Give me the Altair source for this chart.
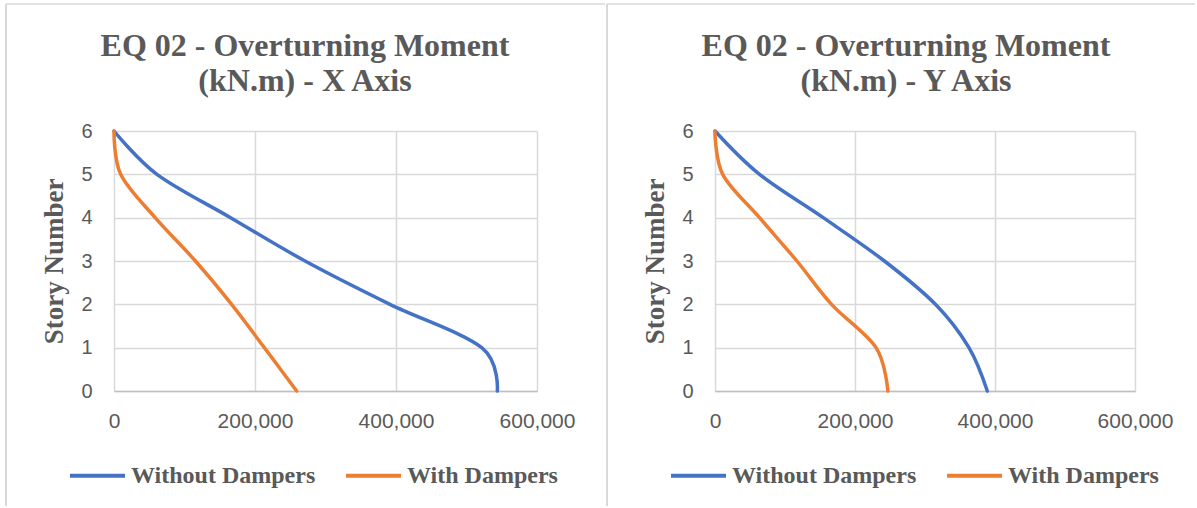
import altair as alt
import pandas as pd

# Story levels and overturning moments (kN.m) for each direction
stories = [0, 1, 2, 3, 4, 5, 6]
series_names = ["Without Dampers", "With Dampers"]

x_without = [543700, 521600, 391500, 271000, 165400, 60900, 0]
x_with = [259100, 213300, 166800, 115500, 58400, 9500, 0]
y_without = [389000, 362800, 314900, 242000, 154600, 63600, 0]
y_with = [247000, 230100, 166500, 117000, 63600, 11000, 0]

title_x = ["EQ 02 - Overturning Moment", "(kN.m) - X Axis"]
title_y = ["EQ 02 - Overturning Moment", "(kN.m) - Y Axis"]

x_ticks = [0, 200000, 400000, 600000]
y_ticks = [0, 1, 2, 3, 4, 5, 6]
colors = ["#4472C4", "#ED7D31"]

TEXT = "#595959"
FRAME = "#d9d9d9"
SERIF = "Liberation Serif"
SANS = "Liberation Sans"


def panel(without, with_, title, width, border_end):
    df = pd.DataFrame({
        "story": stories * 2,
        "moment": without + with_,
        "series": [series_names[0]] * len(stories) + [series_names[1]] * len(stories),
    })
    lines = alt.Chart(df).mark_line(
        interpolate="cardinal", tension=0, strokeWidth=3.5, strokeCap="round"
    ).encode(
        x=alt.X("moment:Q",
                scale=alt.Scale(domain=[0, 600000], nice=False),
                axis=alt.Axis(values=x_ticks, format=",.0f", formatType="number",
                              title=None, domain=True, domainColor="#bfbfbf",
                              domainWidth=1.5, labelPadding=19, labelFlush=False,
                              labelFontSize=21)),
        y=alt.Y("story:Q",
                scale=alt.Scale(domain=[0, 6], nice=False),
                axis=alt.Axis(values=y_ticks, format="d", title="Story Number",
                              domain=False, labelPadding=22, titlePadding=12,
                              labelFontSize=20, labelFlush=False,
                              titleFont=SERIF, titleFontSize=27, titleFontWeight="bold",
                              titleColor=TEXT)),
        color=alt.Color("series:N",
                        scale=alt.Scale(domain=series_names, range=colors),
                        legend=alt.Legend(
                            title=None, orient="none", direction="horizontal",
                            legendX=-46, legendY=315,
                            symbolType="stroke", symbolSize=3025, symbolStrokeWidth=4,
                            labelFont=SERIF, labelFontSize=24, labelFontWeight="bold",
                            labelColor=TEXT, labelLimit=400, labelOffset=4,
                            columnPadding=22)),
        order=alt.Order("story:Q"),
    )
    one = pd.DataFrame({"k": [0]})
    # chart-object frame: top edge and left edge
    top_border = alt.Chart(one).mark_rule(color=FRAME, strokeWidth=1.5).encode(
        x=alt.value(-108), x2=alt.value(border_end), y=alt.value(-127))
    left_border = alt.Chart(one).mark_rule(color=FRAME, strokeWidth=2).encode(
        x=alt.value(-108), y=alt.value(-127), y2=alt.value(375))
    # two-line bold title centred over the chart object
    heading = [
        alt.Chart(one).mark_text(
            text=line, font=SERIF, fontSize=32, fontWeight="bold", color=TEXT,
            align="center", baseline="alphabetic",
        ).encode(x=alt.value(191), y=alt.value(ypos))
        for line, ypos in zip(title, [-75, -40])
    ]
    return alt.layer(top_border, left_border, *heading, lines).properties(
        width=width, height=260,
    )


chart = alt.hconcat(
    panel(x_without, x_with, title_x, 423, 491),
    panel(y_without, y_with, title_y, 420, 480),
    spacing=0,
).resolve_scale(color="independent").configure(
    padding={"left": 5, "top": 3, "right": 0, "bottom": 0},
    background="white",
).configure_view(stroke=None).configure_axis(
    grid=True, gridColor=FRAME, gridWidth=1.5, ticks=False,
    labelFont=SANS, labelFontSize=18, labelColor=TEXT,
)

chart.save("out.html", embed_options={"renderer": "svg", "actions": False})
